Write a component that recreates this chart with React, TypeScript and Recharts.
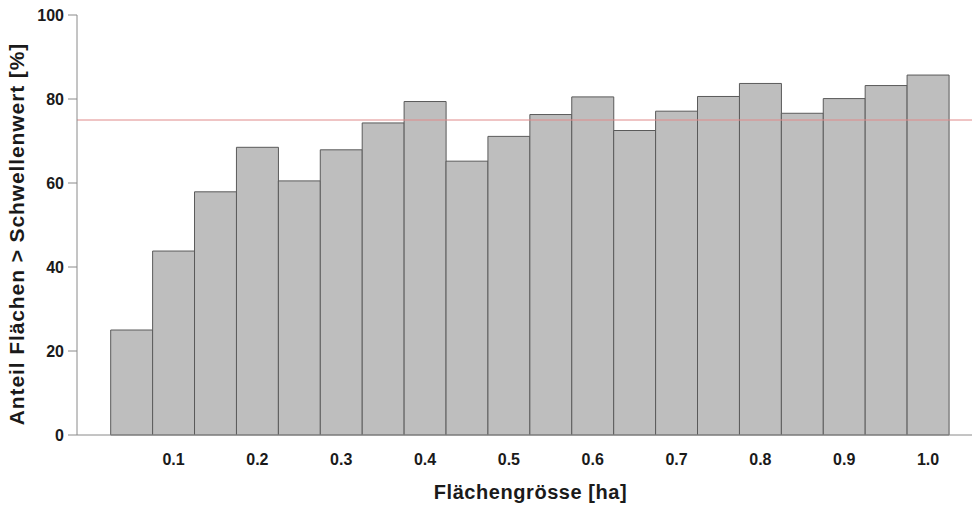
import { BarChart, Bar, XAxis, YAxis, ReferenceLine, Label } from 'recharts'

// class midpoints [ha] and share of areas above threshold [%]
const sizes = ['0.025', '0.075', '0.125', '0.175', '0.225', '0.275', '0.325', '0.375', '0.425', '0.475',
  '0.525', '0.575', '0.625', '0.675', '0.725', '0.775', '0.825', '0.875', '0.925', '0.975']
const shares = [25, 43.8, 57.9, 68.5, 60.5, 67.9, 74.3, 79.4, 65.2, 71.1,
  76.3, 80.5, 72.5, 77.1, 80.6, 83.7, 76.6, 80.1, 83.2, 85.7]
const xTickLabels = ['0.1', '0.2', '0.3', '0.4', '0.5', '0.6', '0.7', '0.8', '0.9', '1.0']
const yTicks = [0, 20, 40, 60, 80, 100]
const threshold = 75

const data = sizes.map((s, i) => ({ size: s, share: shares[i] }))

const font = '"Liberation Sans", Arial, Helvetica, sans-serif'
const tickStyle = { fontSize: 16, fontWeight: 700, fill: '#1a1a1a', fontFamily: font }

export default function App() {
  return (
    <div style={{ width: 976, height: 507, background: '#fff' }}>
      <style>{`body{margin:0}`}</style>
      <BarChart
        width={976}
        height={507}
        data={data}
        margin={{ top: 15, right: 4, bottom: 0, left: 0 }}
        barCategoryGap={0}
      >
        <XAxis
          dataKey="size"
          height={72}
          interval={0}
          tickLine={false}
          tickSize={14}
          tickMargin={5}
          axisLine={{ stroke: '#8a8a8a' }}
          padding={{ left: 33.7, right: 23 }}
          tick={tickStyle}
          tickFormatter={(_v: string, i: number) => (i % 2 === 1 ? xTickLabels[(i - 1) / 2] : '')}
        >
          <Label
            value="Flächengrösse [ha]"
            position="insideBottom"
            offset={8}
            dx={6}
            style={{ fontSize: 20, fontWeight: 700, fill: '#1a1a1a', fontFamily: font, letterSpacing: 0.56 }}
          />
        </XAxis>
        <YAxis
          width={77}
          domain={[0, 100]}
          ticks={yTicks}
          tickSize={9}
          tickMargin={4}
          axisLine={{ stroke: '#8a8a8a' }}
          tickLine={{ stroke: '#8a8a8a' }}
          tick={tickStyle}
        >
          <Label
            value="Anteil Flächen > Schwellenwert [%]"
            angle={-90}
            position="insideLeft"
            offset={17}
            dy={9}
            style={{ textAnchor: 'middle', fontSize: 21, fontWeight: 700, fill: '#1a1a1a', fontFamily: font, letterSpacing: 0.9 }}
          />
        </YAxis>
        <Bar dataKey="share" fill="#bebebe" stroke="#5a5a5a" strokeWidth={1} isAnimationActive={false} />
        <ReferenceLine y={threshold} stroke="#e08a8a" strokeWidth={1} />
      </BarChart>
    </div>
  )
}
